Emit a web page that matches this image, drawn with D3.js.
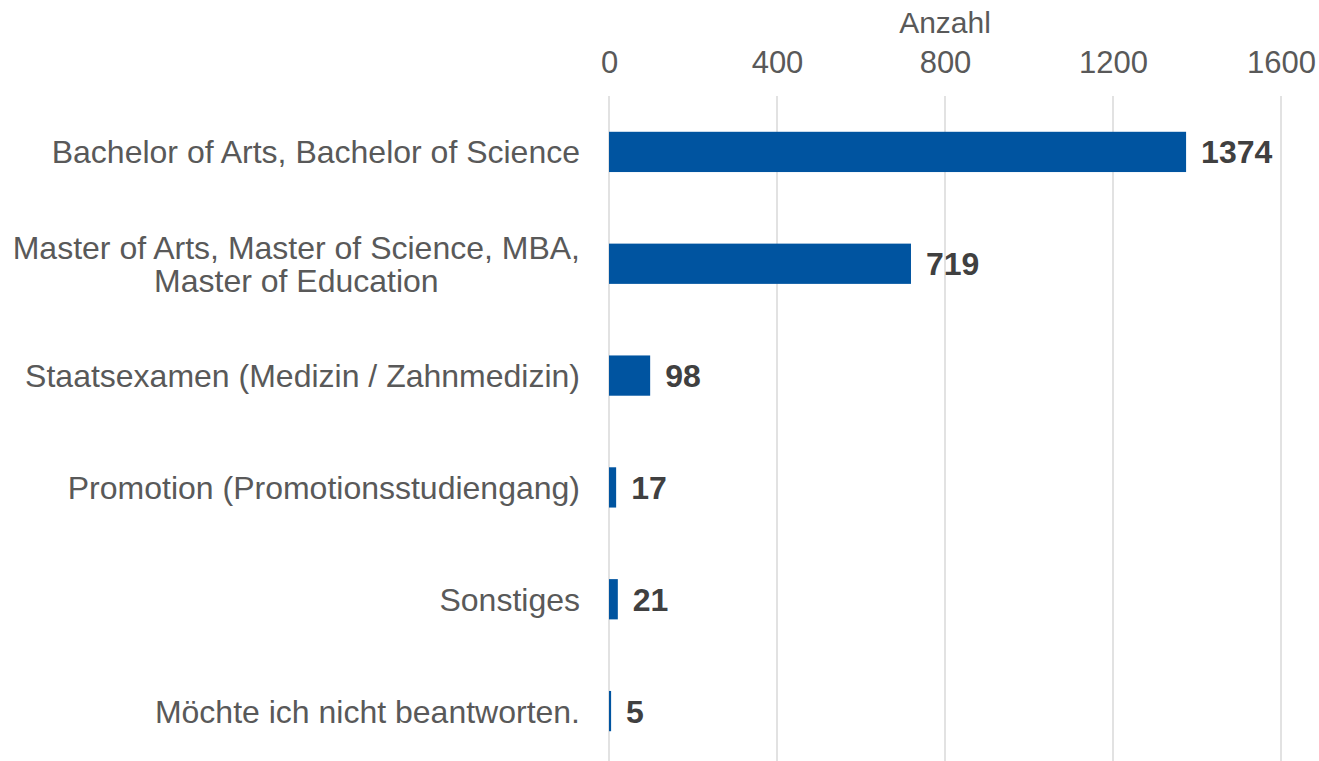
<!DOCTYPE html>
<html>
  <head>
    <script src="https://d3js.org/d3.v7.min.js"></script>
    <style>
      body { margin: 0; background: #fff; }
      text { font-family: "Liberation Sans", Arial, sans-serif; }
    </style>
  </head>
  <body>
    <svg width="1319" height="761"></svg>
    <script>
      // data
      var categories = [
        "Bachelor of Arts, Bachelor of Science",
        "Master of Arts, Master of Science, MBA,|Master of Education",
        "Staatsexamen (Medizin / Zahnmedizin)",
        "Promotion (Promotionsstudiengang)",
        "Sonstiges",
        "Möchte ich nicht beantworten."
      ];
      var counts = [1374, 719, 98, 17, 21, 5];
      var tickValues = [0, 400, 800, 1200, 1600];
      var axisTitle = "Anzahl";

      var svg = d3.select("svg");

      var x = d3.scaleLinear().domain([0, 1600]).range([609, 1281]);
      var y = d3.scaleBand()
                .domain(categories)
                .range([96, 767])
                .paddingInner(0.64)
                .paddingOuter(0.32);

      // gridlines
      svg.append("g").selectAll("line")
        .data(tickValues)
        .enter()
        .append("line")
        .attr("x1", function(d) { return x(d); })
        .attr("x2", function(d) { return x(d); })
        .attr("y1", 96)
        .attr("y2", 761)
        .attr("stroke", "#d9d9d9")
        .attr("stroke-width", 1.5);

      // top axis
      var xAxis = d3.axisTop(x).tickValues(tickValues).tickFormat(d3.format("d"))
                    .tickSize(0).tickPadding(0);
      var gx = svg.append("g")
        .attr("transform", "translate(0,73)")
        .call(xAxis);
      gx.select(".domain").remove();
      gx.selectAll("text")
        .attr("fill", "#595959")
        .style("font-size", "31px");

      svg.append("text")
        .attr("x", x(800))
        .attr("y", 33)
        .attr("text-anchor", "middle")
        .attr("fill", "#595959")
        .style("font-size", "30px")
        .text(axisTitle);

      // bars
      svg.append("g").selectAll("rect")
        .data(counts)
        .enter()
        .append("rect")
        .attr("x", x(0))
        .attr("y", function(d, i) { return y(categories[i]); })
        .attr("width", function(d) { return Math.max(x(d) - x(0), 1.5); })
        .attr("height", y.bandwidth())
        .attr("fill", "#0054a0");

      // value labels
      svg.append("g").selectAll("text")
        .data(counts)
        .enter()
        .append("text")
        .attr("x", function(d) { return x(d) + 15; })
        .attr("y", function(d, i) { return y(categories[i]) + y.bandwidth() / 2; })
        .attr("dy", "0.36em")
        .attr("fill", "#404040")
        .style("font-size", "32px")
        .style("font-weight", "bold")
        .text(function(d) { return d; });

      // category labels
      var yAxis = d3.axisLeft(y).tickSize(0);
      var gy = svg.append("g")
        .attr("transform", "translate(" + x(0) + ",0)")
        .call(yAxis);
      gy.select(".domain").remove();
      gy.selectAll("text").remove();
      gy.selectAll(".tick").each(function(d) {
        var lines = d.split("|");
        var t = d3.select(this).append("text")
          .attr("fill", "#595959")
          .style("font-size", "32px");
        lines.forEach(function(l, j) {
          t.append("tspan")
            .attr("dy", j === 0 ? (0.36 - (lines.length - 1) * 0.52) + "em" : "1.04em")
            .text(l);
        });
        if (lines.length > 1) {
          var w = t.select("tspan").node().getComputedTextLength();
          t.attr("text-anchor", "middle").selectAll("tspan").attr("x", -29 - w / 2);
        } else {
          t.attr("text-anchor", "end").selectAll("tspan").attr("x", -29);
        }
      });
    </script>
  </body>
</html>
